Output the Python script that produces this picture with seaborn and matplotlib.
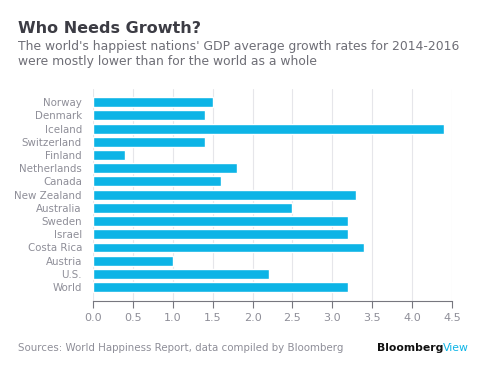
import matplotlib
matplotlib.use("Agg")
import matplotlib.pyplot as plt
import seaborn as sns

# Data
countries = ["Norway", "Denmark", "Iceland", "Switzerland", "Finland", "Netherlands",
             "Canada", "New Zealand", "Australia", "Sweden", "Israel", "Costa Rica",
             "Austria", "U.S.", "World"]
growth = [1.5, 1.4, 4.4, 1.4, 0.4, 1.8, 1.6, 3.3, 2.5, 3.2, 3.2, 3.4, 1.0, 2.2, 3.2]
xticks = [0.0, 0.5, 1.0, 1.5, 2.0, 2.5, 3.0, 3.5, 4.0, 4.5]

sns.set_theme(style="white")
plt.rcParams["font.family"] = ["DejaVu Sans"]

fig = plt.figure(figsize=(4.88, 3.72), dpi=100)
ax = fig.add_axes([0.1906, 0.1909, 0.7357, 0.5699])

sns.barplot(x=growth, y=countries, color="#0db4e6", saturation=1, width=0.75,
            orient="h", ax=ax, zorder=3)

ax.set_xlim(0, 4.5)
ax.set_ylim(15.05, -1.0)
ax.set_xticks(xticks)
ax.set_xticklabels([f"{t:.1f}" for t in xticks])
ax.grid(axis="x", color="#e6e6ea", linewidth=0.8, zorder=0)
ax.set_axisbelow(True)

for s in ["top", "right", "left"]:
    ax.spines[s].set_visible(False)
ax.spines["bottom"].set_color("#77777f")
ax.spines["bottom"].set_linewidth(0.8)
ax.tick_params(axis="x", direction="out", length=5, width=0.8, color="#77777f",
               labelcolor="#8e8e98", labelsize=8, pad=4, bottom=True)
ax.tick_params(axis="y", length=0, labelcolor="#8e8e98", labelsize=7.4, pad=8)
ax.set_xlabel("")
ax.set_ylabel("")

fig.text(0.037, 0.911, "Who Needs Growth?", fontsize=11.5, fontweight="bold",
         color="#3c3c44", va="baseline")
fig.text(0.037, 0.866, "The world's happiest nations' GDP average growth rates for 2014-2016",
         fontsize=8.9, color="#6e6e76", va="baseline")
fig.text(0.037, 0.825, "were mostly lower than for the world as a whole",
         fontsize=8.9, color="#6e6e76", va="baseline")

fig.text(0.037, 0.056, "Sources: World Happiness Report, data compiled by Bloomberg",
         fontsize=7.35, color="#8e8e98", va="baseline")
t1 = fig.text(0.772, 0.056, "Bloomberg", fontsize=7.8, fontweight="bold",
              color="#111111", va="baseline")
fig.canvas.draw()
bb = t1.get_window_extent()
x2 = fig.transFigure.inverted().transform((bb.x1, bb.y0))[0]
fig.text(x2, 0.056, "View", fontsize=7.8, color="#0db4e6", va="baseline")

fig.savefig("out.png", dpi=100, facecolor="white")
